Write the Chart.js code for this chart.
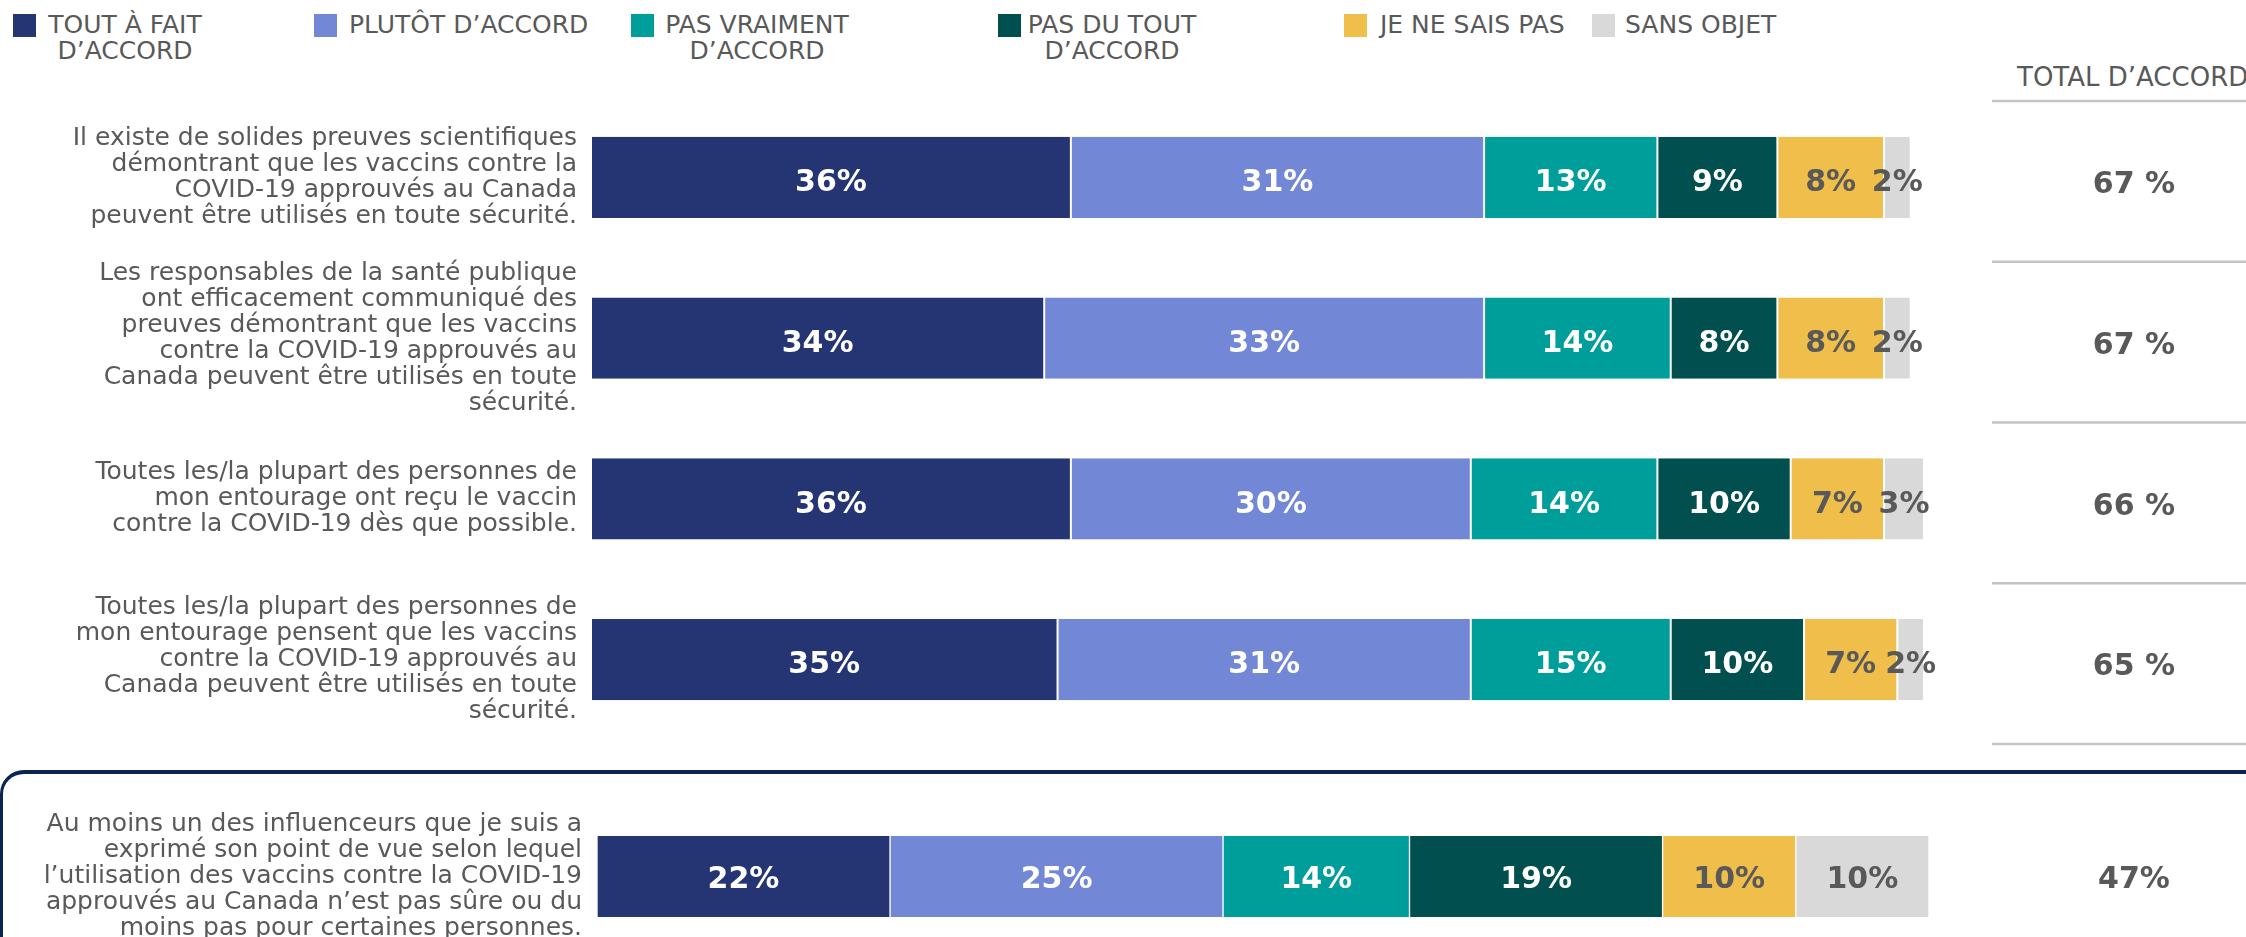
<!DOCTYPE html>
<html>
<head>
<meta charset="utf-8">
<script src="https://cdn.jsdelivr.net/npm/chart.js@4/dist/chart.umd.min.js"></script>
<style>
  html, body { margin: 0; padding: 0; background: #fff; overflow: hidden; }
  body { width: 2246px; height: 937px; position: relative; font-family: "DejaVu Sans", sans-serif; color: #595959; }
  canvas { position: absolute; left: 0; top: 0; }
  .sq { position: absolute; top: 14px; width: 23px; height: 23px; }
  .lg { position: absolute; top: 12px; font-size: 25px; line-height: 26px; white-space: pre; color: #595959; }
  .lg.c { text-align: center; transform: translateX(-50%); }
  #totalHead { position: absolute; left: 2017px; top: 62px; font-size: 26px; line-height: 30px; white-space: nowrap; }
  #box { position: absolute; left: 0; top: 770px; width: 2400px; height: 400px; box-sizing: border-box;
         border-top: 4px solid #0b2352; border-left: 3px solid #0b2352; border-top-left-radius: 24px; }
</style>
</head>
<body>
<div id="box"></div>
<div id="legend"></div>
<div id="totalHead">TOTAL D’ACCORD</div>
<canvas id="topChart" width="2246" height="937"></canvas>
<canvas id="bottomChart" width="2246" height="1100"></canvas>
<script>
// series
const seriesNames = ['TOUT À FAIT\nD’ACCORD', 'PLUTÔT D’ACCORD', 'PAS VRAIMENT\nD’ACCORD', 'PAS DU TOUT\nD’ACCORD', 'JE NE SAIS PAS', 'SANS OBJET'];
const seriesColors = ['#253574', '#7287d5', '#009e9a', '#01504f', '#f0be4a', '#d9d9d9'];
const labelColors = ['#ffffff', '#ffffff', '#ffffff', '#ffffff', '#595959', '#595959'];

// top block: 4 statements
const topLabels = [
  ['Il existe de solides preuves scientifiques', 'démontrant que les vaccins contre la', 'COVID-19 approuvés au Canada', 'peuvent être utilisés en toute sécurité.'],
  ['Les responsables de la santé publique', 'ont efficacement communiqué des', 'preuves démontrant que les vaccins', 'contre la COVID-19 approuvés au', 'Canada peuvent être utilisés en toute', 'sécurité.'],
  ['Toutes les/la plupart des personnes de', 'mon entourage ont reçu le vaccin', 'contre la COVID-19 dès que possible.'],
  ['Toutes les/la plupart des personnes de', 'mon entourage pensent que les vaccins', 'contre la COVID-19 approuvés au', 'Canada peuvent être utilisés en toute', 'sécurité.']
];
const toutAFait = [36, 34, 36, 35];
const plutot = [31, 33, 30, 31];
const pasVraiment = [13, 14, 14, 15];
const pasDuTout = [9, 8, 10, 10];
const neSaisPas = [8, 8, 7, 7];
const sansObjet = [2, 2, 3, 2];
const totalTop = [67, 67, 66, 65];

// bottom block: influencers
const bottomLabels = [
  ['Au moins un des influenceurs que je suis a', 'exprimé son point de vue selon lequel', 'l’utilisation des vaccins contre la COVID-19', 'approuvés au Canada n’est pas sûre ou du', 'moins pas pour certaines personnes.']
];
const bottomValues = [[22], [25], [14], [19], [10], [10]];
const totalBottom = [47];

const FONT = '"DejaVu Sans", sans-serif';
const GREY = '#595959';

const valueLabels = {
  id: 'valueLabels',
  afterDatasetsDraw(chart, args, opts) {
    const ctx = chart.ctx;
    ctx.save();
    ctx.font = 'bold 30px ' + FONT;
    ctx.textAlign = 'center';
    ctx.textBaseline = 'middle';
    chart.data.datasets.forEach((ds, i) => {
      chart.getDatasetMeta(i).data.forEach((bar, j) => {
        const p = bar.getProps(['x', 'y', 'base'], true);
        ctx.fillStyle = labelColors[i];
        ctx.fillText(ds.data[j] + '%', (p.x + p.base) / 2, p.y + opts.dy);
      });
    });
    ctx.restore();
  }
};

const totalsColumn = {
  id: 'totals',
  afterDraw(chart, args, opts) {
    const ctx = chart.ctx;
    const y = chart.scales.y;
    const n = opts.values.length;
    ctx.save();
    if (opts.lines) {
      const step = n > 1 ? y.getPixelForValue(1) - y.getPixelForValue(0) : y.height;
      ctx.strokeStyle = '#c4c4c4';
      ctx.lineWidth = 2.5;
      for (let i = 0; i <= n; i++) {
        const ly = y.getPixelForValue(0) - step / 2 + i * step + 4;
        ctx.beginPath();
        ctx.moveTo(1992, ly);
        ctx.lineTo(2246, ly);
        ctx.stroke();
      }
    }
    ctx.font = 'bold 30px ' + FONT;
    ctx.fillStyle = GREY;
    ctx.textAlign = 'center';
    ctx.textBaseline = 'middle';
    opts.values.forEach((v, i) => {
      ctx.fillText(v + opts.suffix, 2134, y.getPixelForValue(i) + opts.dy);
    });
    ctx.restore();
  }
};

function makeChart(id, labels, series, totals, layout) {
  return new Chart(document.getElementById(id), {
    type: 'bar',
    data: {
      labels: labels,
      datasets: seriesNames.map((name, i) => ({
        label: name,
        data: series[i],
        backgroundColor: seriesColors[i],
        borderColor: '#ffffff',
        borderWidth: { left: 1, right: 1, top: 0, bottom: 0 },
        borderSkipped: false,
        barPercentage: 1,
        categoryPercentage: layout.catPct
      }))
    },
    options: {
      indexAxis: 'y',
      responsive: false,
      animation: false,
      events: [],
      layout: { padding: layout.padding },
      scales: {
        x: { stacked: true, min: 0, max: 100, display: false },
        y: {
          stacked: true,
          grid: { display: false, drawTicks: false },
          border: { display: false },
          ticks: {
            autoSkip: false,
            color: GREY,
            padding: layout.tickPad,
            font: { family: FONT, size: 25, lineHeight: 26 / 25 }
          },
          afterFit: (scale) => { scale.width = layout.axisWidth; }
        }
      },
      plugins: {
        legend: { display: false },
        tooltip: { enabled: false },
        valueLabels: { dy: layout.labelDy },
        totals: { values: totals, suffix: layout.suffix, lines: layout.lines, dy: layout.totalDy }
      }
    },
    plugins: [valueLabels, totalsColumn]
  });
}

const topChart = makeChart('topChart', topLabels,
  [toutAFait, plutot, pasVraiment, pasDuTout, neSaisPas, sansObjet], totalTop,
  { padding: { top: 97, bottom: 197, right: 322, left: 0 }, axisWidth: 591, tickPad: 14,
    catPct: 0.504, labelDy: 6, totalDy: 8, suffix: ' %', lines: true });

const bottomChart = makeChart('bottomChart', bottomLabels, bottomValues, totalBottom,
  { padding: { top: 836, bottom: 183, right: 317, left: 0 }, axisWidth: 597, tickPad: 15,
    catPct: 1, labelDy: 4, totalDy: 4, suffix: '%', lines: false });

// html legend built from the chart datasets
const legendLayout = [
  { box: 13, center: 125 },
  { box: 314, left: 349 },
  { box: 631, center: 757 },
  { box: 998, center: 1112 },
  { box: 1344, left: 1380 },
  { box: 1592, left: 1625 }
];
const legend = document.getElementById('legend');
topChart.data.datasets.forEach((ds, i) => {
  const pos = legendLayout[i];
  const sq = document.createElement('div');
  sq.className = 'sq';
  sq.style.left = pos.box + 'px';
  sq.style.background = ds.backgroundColor;
  legend.appendChild(sq);
  const tx = document.createElement('div');
  tx.textContent = ds.label;
  if (pos.center !== undefined) {
    tx.className = 'lg c';
    tx.style.left = pos.center + 'px';
  } else {
    tx.className = 'lg';
    tx.style.left = pos.left + 'px';
  }
  legend.appendChild(tx);
});
</script>
</body>
</html>
